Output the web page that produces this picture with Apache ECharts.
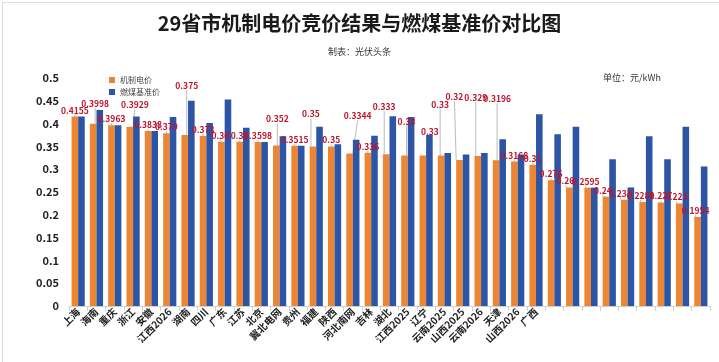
<!DOCTYPE html>
<html><head><meta charset="utf-8">
<script src="https://cdn.jsdelivr.net/npm/echarts@6/dist/echarts.min.js"></script>
<style>html,body{margin:0;padding:0;background:#fff}#c{width:719px;height:362px}</style>
</head><body><div id="c"></div>
<script>
const categories = ["上海","海南","重庆","浙江","安徽","江西2026","湖南","四川","广东","江苏","北京","冀北电网","贵州","福建","陕西","河北南网","吉林","湖北","江西2025","辽宁","云南2025","山西2025","云南2026","天津","山西2026","广西","","","","","","","","",""];
const mechanismPrice = [0.4155,0.3998,0.3963,0.3929,0.3838,0.379,0.375,0.373,0.36,0.36,0.3598,0.352,0.3515,0.35,0.35,0.3344,0.336,0.333,0.33,0.33,0.33,0.32,0.329,0.3196,0.3168,0.31,0.276,0.26,0.2595,0.24,0.233,0.2281,0.227,0.225,0.1954];
const coalBenchmark = [0.4155,0.43,0.3963,0.4153,0.3838,0.4143,0.45,0.4012,0.453,0.391,0.3598,0.372,0.3515,0.3932,0.3545,0.3644,0.3731,0.4161,0.4143,0.3749,0.3358,0.332,0.3358,0.3655,0.332,0.4207,0.3765,0.393,0.2595,0.322,0.26,0.372,0.322,0.393,0.306];
const yTicks = {min:0, max:0.5, interval:0.05};

// label nudges (style only): [dx, dy]
const labelNudge = {1:[2,-14],3:[5,-16],6:[2,-43],8:[-1,0],11:[1,-20],13:[-2,-26],15:[8,-31],17:[-2,-41],18:[2,-28],19:[7,-18],20:[-1,-45],21:[-5,-57],22:[-2,-52],23:[1,-55],27:[-4,0],28:[-2,0],29:[-3,0],30:[-4,0],31:[-2,0],33:[-3,0],34:[-2,0]};

const chart = echarts.init(document.getElementById('c'));
const FONT = '"Noto Sans CJK SC","Noto Sans",sans-serif';
chart.setOption({
  backgroundColor:'#fff',
  animation:false,
  textStyle:{fontFamily:FONT},
  graphic:[{type:'rect', left:0, top:0, shape:{x:0.5,y:0.5,width:717,height:360},
    style:{fill:'none', stroke:'#dcdcdc', lineWidth:1}, silent:true}],
  title:[
    {text:'29省市机制电价竞价结果与燃煤基准价对比图', left:'center', top:8,
     textStyle:{fontSize:20, fontWeight:'bold', color:'#1a1a1a', fontFamily:FONT}},
    {text:'制表：光伏头条', left:'center', top:42,
     textStyle:{fontSize:9, fontWeight:'normal', color:'#333', fontFamily:FONT}},
    {text:'单位：元/kWh', left:598, top:68,
     textStyle:{fontSize:9, fontWeight:'normal', color:'#333', fontFamily:FONT}}
  ],
  legend:{
    left:104, top:71, orient:'vertical', itemWidth:6, itemHeight:6, itemGap:4,
    icon:'rect', textStyle:{fontSize:8, color:'#444', fontFamily:FONT},
    data:['机制电价','燃煤基准价']
  },
  grid:{left:69, right:9, top:78, bottom:56, containLabel:false},
  xAxis:{
    type:'category', data:categories,
    axisLine:{show:true, lineStyle:{color:'#d0d0d0'}},
    axisTick:{show:true, lineStyle:{color:'#d0d0d0'}},
    axisLabel:{rotate:45, interval:0, fontSize:10, fontWeight:'bold', color:'#222', margin:4, fontFamily:FONT}
  },
  yAxis:{
    type:'value', min:yTicks.min, max:yTicks.max, interval:yTicks.interval,
    axisLine:{show:false}, axisTick:{show:false}, splitLine:{show:false},
    axisLabel:{fontSize:11, fontWeight:'bold', color:'#222', margin:10, fontFamily:FONT,
      formatter:v=>String(+v.toFixed(2))}
  },
  series:[
    {name:'机制电价', type:'bar', data:mechanismPrice, barGap:'0%', barCategoryGap:'28%',
     itemStyle:{color:'#EE8533'},
     label:{show:true, position:'top', distance:2, fontSize:8.5, fontWeight:'bold', color:'#C0122A', fontFamily:FONT,
       formatter:p=>String(p.value)},
     labelLine:{show:true, lineStyle:{color:'#bbbbbb', width:1}},
     labelLayout:function(p){const n=labelNudge[p.dataIndex]; return n?{dx:n[0],dy:n[1]}:{};}
    },
    {name:'燃煤基准价', type:'bar', data:coalBenchmark,
     itemStyle:{color:'#2D55A5'}}
  ]
});
</script></body></html>
